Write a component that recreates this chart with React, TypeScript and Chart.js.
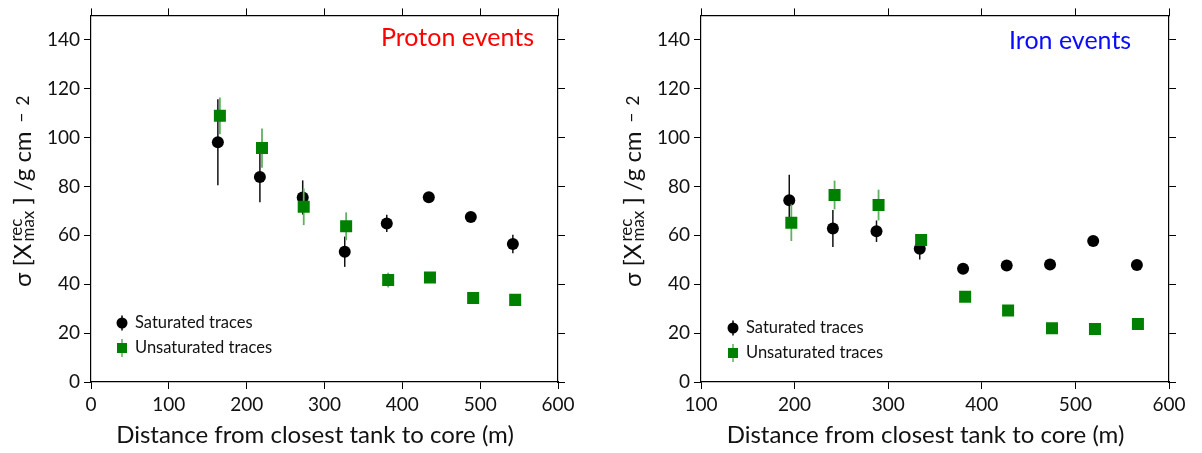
import React, { useEffect, useRef } from "react";
import { Chart, registerables } from "chart.js";

Chart.register(...registerables);

// ---- Data ----
const protonSatX = [163, 217, 272, 326, 380, 434, 488, 542];
const protonSatY = [98.1, 83.9, 75.5, 53.3, 64.9, 75.6, 67.5, 56.5];
const protonSatErr = [17.6, 10.4, 7, 6.2, 3.5, 1, 1, 3.8];
const protonUnsX = [165.6, 219.7, 273.3, 327.8, 381.8, 435.5, 491, 545];
const protonUnsY = [108.9, 95.7, 71.7, 63.7, 41.7, 42.8, 34.4, 33.6];
const protonUnsErr = [7.5, 8, 7.5, 5.7, 3, 1, 1, 1];

const ironSatX = [194.3, 240.9, 287.5, 333.7, 380, 426.6, 472.9, 519, 565.7];
const ironSatY = [74.4, 62.8, 61.7, 54.5, 46.3, 47.7, 48.1, 57.7, 47.9];
const ironSatErr = [10.4, 7.6, 4.4, 4.4, 1, 1, 1, 1, 1];
const ironUnsX = [196.5, 242.7, 289.7, 335.2, 382.2, 428.1, 475, 520.9, 566.8];
const ironUnsY = [65.2, 76.5, 72.4, 58.1, 34.9, 29.3, 22, 21.7, 23.7];
const ironUnsErr = [7.5, 5.9, 6.3, 1.5, 1, 1, 1, 1, 1];

const yTickValues = [0, 20, 40, 60, 80, 100, 120, 140];
const protonXTicks = [0, 100, 200, 300, 400, 500, 600];
const ironXTicks = [100, 200, 300, 400, 500, 600];
const legendLabels = ["Saturated traces", "Unsaturated traces"];
const xTitle = "Distance from closest tank to core (m)";

const FONT = "Lato, 'Open Sans', sans-serif";
const GREEN = "#008000";
const GREEN_ERR = "rgb(95,178,95)";
const BLACK = "#000000";
const TEXT = "#111111";

interface Panel {
  satX: number[]; satY: number[]; satErr: number[];
  unsX: number[]; unsY: number[]; unsErr: number[];
  xMin: number; xMax: number; xTicks: number[];
  label: string; labelColor: string; labelX: number; labelY: number;
  yBoxWidth: number; y2BoxWidth: number; yTitleX: number;
  legendX: number; legendY: number; legendTextX: number;
}

const panels: Panel[] = [
  {
    satX: protonSatX, satY: protonSatY, satErr: protonSatErr,
    unsX: protonUnsX, unsY: protonUnsY, unsErr: protonUnsErr,
    xMin: 0, xMax: 600, xTicks: protonXTicks,
    label: "Proton events", labelColor: "#ff0000", labelX: 381, labelY: 38,
    yBoxWidth: 91, y2BoxWidth: 43, yTitleX: 31,
    legendX: 122, legendY: 323, legendTextX: 135,
  },
  {
    satX: ironSatX, satY: ironSatY, satErr: ironSatErr,
    unsX: ironUnsX, unsY: ironUnsY, unsErr: ironUnsErr,
    xMin: 100, xMax: 600, xTicks: ironXTicks,
    label: "Iron events", labelColor: "#0a0aff", labelX: 408, labelY: 41,
    yBoxWidth: 100, y2BoxWidth: 33, yTitleX: 40,
    legendX: 132, legendY: 328, legendTextX: 145,
  },
];

function makeChart(canvas: HTMLCanvasElement, panel: Panel) {
  const toPts = (xs: number[], ys: number[]) => xs.map((x, i) => ({ x, y: ys[i] }));
  const grid = { drawOnChartArea: false, drawTicks: true, tickLength: 7, color: BLACK, lineWidth: 1 };
  const border = { display: true, color: BLACK, width: 1.2 };
  const setTicks = (vals: number[]) => (s: any) => { s.ticks = vals.map((v) => ({ value: v })); };

  const errPlugin = {
    id: "errbars",
    beforeDatasetDraw(chart: any, args: any) {
      const ds: any = chart.data.datasets[args.index];
      const errs: number[] = ds.errors || [];
      const xs = chart.scales.x, ys = chart.scales.y;
      const ctx = chart.ctx;
      ctx.save();
      ctx.strokeStyle = ds.errorColor;
      ctx.lineWidth = ds.errorWidth;
      ds.data.forEach((p: any, i: number) => {
        const e = errs[i] || 0;
        const px = xs.getPixelForValue(p.x);
        ctx.beginPath();
        ctx.moveTo(px, ys.getPixelForValue(p.y - e));
        ctx.lineTo(px, ys.getPixelForValue(p.y + e));
        ctx.stroke();
      });
      ctx.restore();
    },
  };

  const textPlugin = {
    id: "paneltext",
    afterDraw(chart: any) {
      const ctx = chart.ctx;
      const area = chart.chartArea;
      ctx.save();
      // panel label
      ctx.font = `25px ${FONT}`;
      ctx.fillStyle = panel.labelColor;
      ctx.textAlign = "left";
      ctx.textBaseline = "middle";
      ctx.fillText(panel.label, panel.labelX, panel.labelY);
      // x title
      ctx.fillStyle = TEXT;
      ctx.font = `24px ${FONT}`;
      ctx.textAlign = "center";
      ctx.textBaseline = "alphabetic";
      ctx.fillText(xTitle, (area.left + area.right) / 2 - 9.5, 443);
      // legend
      ctx.font = `16.5px ${FONT}`;
      ctx.textAlign = "left";
      ctx.textBaseline = "middle";
      const lx = panel.legendX, ly = panel.legendY;
      ctx.strokeStyle = BLACK;
      ctx.lineWidth = 1.5;
      ctx.beginPath(); ctx.moveTo(lx, ly - 7.5); ctx.lineTo(lx, ly + 7.5); ctx.stroke();
      ctx.fillStyle = BLACK;
      ctx.beginPath(); ctx.arc(lx, ly, 5.5, 0, Math.PI * 2); ctx.fill();
      ctx.fillStyle = TEXT;
      ctx.fillText(legendLabels[0], panel.legendTextX, ly);
      const ly2 = ly + 25;
      ctx.strokeStyle = GREEN_ERR;
      ctx.beginPath(); ctx.moveTo(lx, ly2 - 9); ctx.lineTo(lx, ly2 + 9); ctx.stroke();
      ctx.fillStyle = GREEN;
      ctx.fillRect(lx - 5, ly2 - 5, 10, 10);
      ctx.fillStyle = TEXT;
      ctx.fillText(legendLabels[1], panel.legendTextX, ly2);
      // y title (rotated): σ [X^rec_max ] /g cm^−2
      ctx.translate(panel.yTitleX, 287);
      ctx.rotate(-Math.PI / 2);
      ctx.textAlign = "left";
      ctx.textBaseline = "alphabetic";
      ctx.fillStyle = TEXT;
      const main = `24px ${FONT}`;
      const script = `17px ${FONT}`;
      let pos = 0;
      ctx.font = main;
      const s1 = "σ [X";
      ctx.fillText(s1, pos, 0);
      pos += ctx.measureText(s1).width + 2;
      ctx.font = script;
      ctx.fillText("rec", pos, -9);
      ctx.fillText("max", pos, 3);
      pos += Math.max(ctx.measureText("rec").width, ctx.measureText("max").width);
      ctx.font = main;
      const s2 = " ] /g cm";
      ctx.fillText(s2, pos, 0);
      pos += ctx.measureText(s2).width + 9;
      ctx.font = script;
      ctx.fillText("−", pos, -4);
      pos += ctx.measureText("−").width + 7;
      ctx.fillText("2", pos, -2);
      ctx.restore();
    },
  };

  return new Chart(canvas, {
    type: "scatter",
    data: {
      datasets: [
        {
          label: legendLabels[0],
          data: toPts(panel.satX, panel.satY),
          pointStyle: "circle",
          pointRadius: 6,
          pointBackgroundColor: BLACK,
          pointBorderWidth: 0,
          order: 1,
          errors: panel.satErr,
          errorColor: "#111111",
          errorWidth: 1.5,
        } as any,
        {
          label: legendLabels[1],
          data: toPts(panel.unsX, panel.unsY),
          pointStyle: "rect",
          pointRadius: 8.5,
          pointBackgroundColor: GREEN,
          pointBorderWidth: 0,
          order: 0,
          errors: panel.unsErr,
          errorColor: GREEN_ERR,
          errorWidth: 1.8,
        } as any,
      ],
    },
    options: {
      responsive: false,
      animation: false,
      layout: { padding: 0 },
      plugins: { legend: { display: false }, tooltip: { enabled: false } },
      scales: {
        x: {
          type: "linear", position: "bottom", min: panel.xMin, max: panel.xMax,
          afterBuildTicks: setTicks(panel.xTicks),
          afterFit: (s: any) => { s.height = 71; },
          grid, border,
          ticks: { font: { family: FONT, size: 19 }, color: TEXT, padding: 4, maxRotation: 0, autoSkip: false },
        },
        x2: {
          type: "linear", position: "top", min: panel.xMin, max: panel.xMax,
          afterBuildTicks: setTicks(panel.xTicks),
          afterFit: (s: any) => { s.height = 7; },
          grid, border,
          ticks: { display: false },
        },
        y: {
          type: "linear", position: "left", min: 0, max: 150,
          afterBuildTicks: setTicks(yTickValues),
          afterFit: (s: any) => { s.width = panel.yBoxWidth; },
          grid, border,
          ticks: { font: { family: FONT, size: 19 }, color: TEXT, padding: 4, autoSkip: false },
        },
        y2: {
          type: "linear", position: "right", min: 0, max: 150,
          afterBuildTicks: setTicks(yTickValues),
          afterFit: (s: any) => { s.width = panel.y2BoxWidth; },
          grid, border,
          ticks: { display: false },
        },
      } as any,
    },
    plugins: [errPlugin, textPlugin] as any,
  });
}

function PanelChart({ panel }: { panel: Panel }) {
  const ref = useRef<HTMLCanvasElement | null>(null);
  useEffect(() => {
    if (!ref.current) return;
    const chart = makeChart(ref.current, panel);
    return () => chart.destroy();
  }, [panel]);
  return <canvas ref={ref} width={601} height={453} style={{ display: "block", width: 601, height: 453 }} />;
}

export default function App() {
  return (
    <div style={{ position: "absolute", left: 0, top: 0, width: 1202, height: 453, display: "flex", background: "#fff" }}>
      <PanelChart panel={panels[0]} />
      <PanelChart panel={panels[1]} />
    </div>
  );
}
